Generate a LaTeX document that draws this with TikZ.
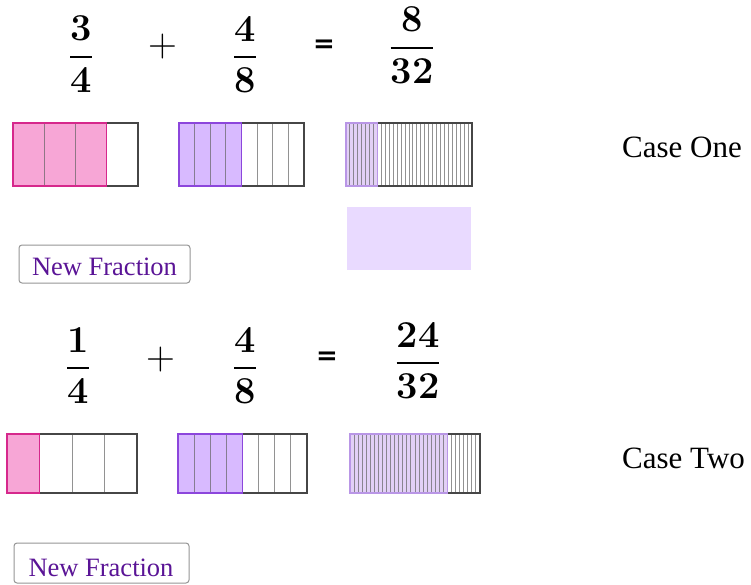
\documentclass[tikz,border=0pt]{standalone}
\usepackage{fontspec}
\setmainfont{Liberation Serif}
\newfontfamily\djsans{DejaVu Sans}
\newfontfamily\lmfont{Latin Modern Roman}
\definecolor{pinkfill}{RGB}{247,166,214}
\definecolor{pinkedge}{RGB}{214,40,140}
\definecolor{purplefill}{RGB}{216,186,255}
\definecolor{purpleedge}{RGB}{140,70,220}
\definecolor{lavfill}{RGB}{226,208,246}
\definecolor{lavedge}{RGB}{185,150,230}
\definecolor{boxfill}{RGB}{233,218,255}
\definecolor{outlinegray}{RGB}{70,70,70}
\definecolor{divgray}{RGB}{100,100,100}
\definecolor{btntext}{RGB}{90,20,150}
\definecolor{btnedge}{RGB}{150,150,150}
\newcommand{\bfrac}[2]{\vbox{\offinterlineskip\halign{\hfil##\hfil\cr #1\cr\noalign{\kern15pt\hrule height1.5pt\kern10pt}#2\cr}}}
\newcommand{\mybar}[8]{%
  \pgfmathsetmacro{\mybarw}{(#3-#1)/#5}%
  \pgfmathsetmacro{\mybarfx}{#1+#6*\mybarw}%
  \pgfmathtruncatemacro{\mybarnm}{#5-1}%
  \fill[#7] (#1,#2) rectangle (\mybarfx,#4);
  \foreach \i in {1,...,\mybarnm} {\draw[divline] ({#1+\i*\mybarw},#2) -- ({#1+\i*\mybarw},#4);}
  \draw[barline] (#1,#2) rectangle (#3,#4);
  \draw[barline,#8] (#1,#2) rectangle (\mybarfx,#4);
}
\begin{document}
\begin{tikzpicture}[x=1pt,y=-1pt,
  fracnode/.style={inner sep=0pt,font=\lmfont\bfseries\fontsize{38}{40}\selectfont},
  plusnode/.style={inner sep=0pt,font=\lmfont\fontsize{40}{42}\selectfont},
  eqnode/.style={inner sep=0pt,font=\djsans\bfseries\fontsize{26}{28}\selectfont},
  casetext/.style={inner sep=0pt,anchor=base west,font=\fontsize{31}{33}\selectfont},
  btn/.style={draw=btnedge,fill=white,line width=1pt,rounded corners=3pt},
  btntxt/.style={inner sep=0pt,anchor=base,text=btntext,font=\fontsize{26.5}{28}\selectfont},
  divline/.style={draw=divgray,draw opacity=0.7,line width=0.9pt},
  barline/.style={draw=outlinegray,line width=1.3pt}]
\useasboundingbox (0,0) rectangle (751,585);
\fill[white] (0,0) rectangle (751,585);
% Case one
\node[fracnode] (a1) at (81,54.5) {\bfrac{3}{4}};
\node[plusnode] (p1) at (163,47) {+};
\node[fracnode] (b1) at (245,54.5) {\bfrac{4}{8}};
\node[eqnode] (e1) at (324,46) {=};
\node[fracnode] (s1) at (412,45.5) {\bfrac{8}{32}};
\mybar{13}{123}{138}{186}{4}{3}{pinkfill}{pinkedge}
\mybar{179}{123}{304}{186}{8}{4}{purplefill}{purpleedge}
\mybar{346}{123}{472}{186}{32}{8}{lavfill}{lavedge}
\fill[boxfill] (347,207) rectangle (471,270);
\node[casetext] (c1) at (622,158) {Case One};
\draw[btn] (19,245) rectangle (190,283);
\node[btntxt] (n1) at (104.5,275) {New Fraction};
% Case two
\node[fracnode] (a2) at (78,365.5) {\bfrac{1}{4}};
\node[plusnode] (p2) at (161,360) {+};
\node[fracnode] (b2) at (245,365.5) {\bfrac{4}{8}};
\node[eqnode] (e2) at (327,358) {=};
\node[fracnode] (s2) at (418,360.5) {\bfrac{24}{32}};
\mybar{7}{434}{137}{493}{4}{1}{pinkfill}{pinkedge}
\mybar{178}{434}{307}{493}{8}{4}{purplefill}{purpleedge}
\mybar{350}{434}{480}{493}{32}{24}{lavfill}{lavedge}
\node[casetext] (c2) at (622,468) {Case Two};
\draw[btn] (14,543) rectangle (189,583);
\node[btntxt] (n2) at (101,576) {New Fraction};
\end{tikzpicture}
\end{document}
